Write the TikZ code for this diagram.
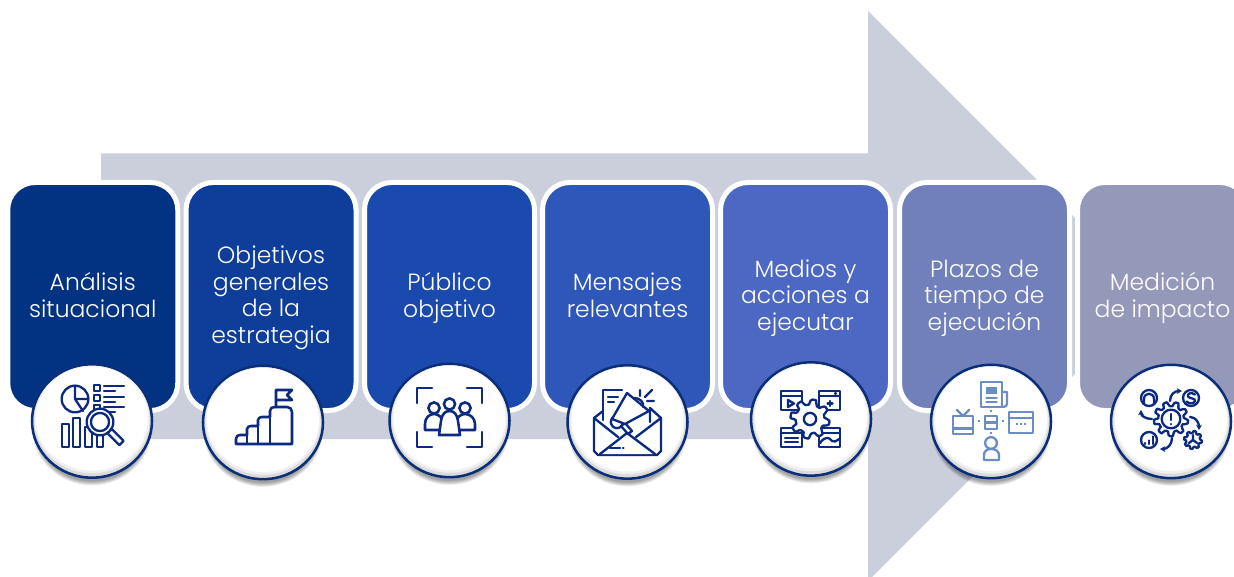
\documentclass[tikz,border=0pt]{standalone}
\usepackage{fontspec}
\setmainfont{Poppins}[UprightFont=* Light]
\usetikzlibrary{shapes.geometric,arrows.meta}
\definecolor{arrowgrey}{HTML}{CBCFDC}
\definecolor{boxa}{HTML}{023382}
\definecolor{boxb}{HTML}{0F3E9A}
\definecolor{boxc}{HTML}{1B4AAE}
\definecolor{boxd}{HTML}{2E57B9}
\definecolor{boxe}{HTML}{4C68C2}
\definecolor{boxf}{HTML}{717FBA}
\definecolor{boxg}{HTML}{9499BA}
\definecolor{ringblue}{HTML}{0A2F78}
\definecolor{iconblue}{HTML}{0B2A80}
\definecolor{iconlight}{HTML}{6B8CC4}
\newcommand{\upstr}{\rule{0pt}{15.55pt}}
\newcommand{\dnstr}{\rule[-4.35pt]{0pt}{4.35pt}}
\tikzset{
  x=0.75pt,y=-0.75pt,
  stepbox/.style={rectangle,rounded corners=20.5pt,draw=white,line width=3.75pt,
    minimum width=127.5pt,minimum height=171pt,inner sep=0pt,align=center,
    text=white,font=\fontsize{17.6}{19.9}\selectfont},
  disc/.style={ellipse,draw=ringblue,line width=1.9pt,fill=black!14,
    minimum width=90pt,minimum height=85pt,inner sep=0pt},
  ic/.style={draw=iconblue,line width=1.75pt,line join=round,line cap=round},
  icl/.style={draw=iconlight,line width=1.75pt,line join=round,line cap=round},
  tip/.style={-{Stealth[length=4pt,width=4.5pt]}}
}
\newcommand{\discat}[3]{%
  \foreach \k in {0,1,...,5}{%
    \fill[black,opacity=0.07] (#2,#3+7) circle[x radius=42pt+\k*0.6pt,y radius=40pt+\k*0.6pt];}
  \node[disc] (#1) at (#2,#3) {};
  \fill[black!6] (#2,#3-1.5) circle[x radius=43.2pt,y radius=40.3pt];
  \fill[white] (#2,#3-2.5) circle[x radius=42pt,y radius=39pt];
}
\newcommand{\gearshape}[6]{% style, cx, cy, r, amp, teeth
  \draw[#1,fill=white] plot[smooth cycle,tension=0.25,samples=#6*8+1,domain=0:360-45/#6,variable=\t]
   ({#2+(#4+#5*max(min(2.5*sin(#6*\t),1),-1))*cos(\t)},{#3+(#4+#5*max(min(2.5*sin(#6*\t),1),-1))*sin(\t)});
}
\begin{document}
\begin{tikzpicture}
\useasboundingbox (0,0) rectangle (1234,577);
\clip (0,0) rectangle (1234,577);
\fill[white] (0,0) rectangle (1234,577);
% big arrow
\fill[arrowgrey] (101,153.5) -- (868,153.5) -- (868,11) -- (1153,296) -- (868,581) -- (868,439) -- (101,439) -- cycle;
% boxes
\node[stepbox,fill=boxa] (b1) at (92.75,296.5) {\upstr Análisis\\situacional\dnstr};
\node[stepbox,fill=boxb] (b2) at (271,296.5) {\upstr Objetivos\\generales\\de la\\estrategia\dnstr};
\node[stepbox,fill=boxc] (b3) at (449.5,296.5) {\upstr Público\\objetivo\dnstr};
\node[stepbox,fill=boxd] (b4) at (627.5,296.5) {\upstr Mensajes\\relevantes\dnstr};
\node[stepbox,fill=boxe] (b5) at (805.5,296.5) {\upstr Medios y\\acciones a\\ejecutar\dnstr};
\node[stepbox,fill=boxf] (b6) at (984.5,296.5) {\upstr Plazos de\\tiempo de\\ejecución\dnstr};
\node[stepbox,fill=boxg] (b7) at (1162.5,296.5) {\upstr Medición\\de impacto\dnstr};
% discs
\discat{c1}{92}{421}
\discat{c2}{263}{422.5}
\discat{c3}{449.5}{420.5}
\discat{c4}{627.5}{422}
\discat{c5}{811}{419}
\discat{c6}{991}{421.5}
\discat{c7}{1171}{421.5}
% icon 1: analysis
\draw[ic] (75,399) circle[radius=10pt];
\draw[ic] (75,385.5) -- (75,399) -- (88.5,399) (75,399) -- (83,411);
\foreach \yy in {388,398,408}{\draw[ic] (94,\yy-3) rectangle (100,\yy+3);}
\draw[ic] (104,386) -- (124,386) (104,391) -- (115,391) (104,397) -- (124,397) (104,402) -- (115,402) (104,407) -- (124,407) (104,412) -- (115,412);
\draw[ic] (62,424) rectangle (69,447);
\draw[ic] (73,418) rectangle (80,447);
\draw[ic] (85,427) rectangle (92,447);
\draw[ic] (97,433) rectangle (103,447);
\draw[ic,fill=white,rotate around={-45:(115.5,437)}] (107,434) rectangle (124,440);
\draw[ic,fill=white] (100,422) circle[radius=10pt];
\draw[ic] (100,422) circle[radius=6.8pt];
% icon 2: stairs
\draw[ic,line width=1.9pt,fill=white] (236,444) -- (236,439) .. controls (236,436) and (238,435) .. (240,435) -- (247,435) -- (247,429) .. controls (247,427) and (249,426) .. (251,426) -- (258,426) -- (258,420) .. controls (258,418) and (260,417) .. (262,417) -- (270,417) -- (270,411) .. controls (270,408) and (272,407) .. (275,407) -- (287,407) .. controls (290,407) and (292,409) .. (292,412) -- (292,444) -- cycle;
\draw[ic,line width=1.9pt] (247,435) -- (247,444) (258,426) -- (258,444) (270,417) -- (270,444);
\draw[ic,line width=1.9pt] (276,407) -- (276,390) -- (292,390) -- (287,395) -- (292,400) -- (276,400);
% icon 3: audience
\draw[ic,line width=1.9pt] (417,403) -- (417,388) -- (432,388) (467,388) -- (482,388) -- (482,403)
  (417,432) -- (417,447) -- (432,447) (467,447) -- (482,447) -- (482,432);
\draw[ic,line width=1.9pt,fill=white] (425,430) -- (425,424) .. controls (425,418) and (429,414) .. (434,414) .. controls (439,414) and (443,418) .. (443,424) -- (443,430) -- cycle;
\draw[ic,line width=1.9pt,fill=white] (456,430) -- (456,424) .. controls (456,418) and (460,414) .. (465,414) .. controls (470,414) and (475,418) .. (475,424) -- (475,430) -- cycle;
\draw[ic,line width=1.9pt,fill=white] (434,408) circle[radius=4.2pt];
\draw[ic,line width=1.9pt,fill=white] (465,408) circle[radius=4.2pt];
\draw[ic,line width=1.9pt,fill=white] (439,435) -- (441,421) .. controls (442,414) and (445,411) .. (449.5,411) .. controls (454,411) and (457,414) .. (458,421) -- (460,435) -- cycle;
\draw[ic,line width=1.9pt,fill=white] (449.5,404) circle[radius=4.2pt];
% icon 4: envelope and megaphone
\draw[ic] (603,420) -- (603,390) -- (622,390);
\draw[ic] (608,397) -- (618,397) (608,402) -- (614,402);
\draw[ic] (594,418) -- (603,411) (661,418) -- (650,408) (650,408) -- (650,422);
\draw[ic] (594,418) -- (594,451) -- (598,455) -- (657,455) -- (661,451) -- (661,418);
\draw[ic] (594,418) -- (618,437) (661,418) -- (636,437);
\draw[ic,fill=white] (600,454) -- (627,433) -- (655,454);
\draw[ic] (610,448) -- (620,448) (623,448) -- (623.5,448);
\draw[ic,fill=white] (617,422) circle[radius=4.6pt];
\draw[ic,fill=white] (621,426) -- (628,434) -- (632,431) -- (625,423) -- cycle;
\draw[ic,fill=white] (612,419) -- (627,393) -- (649,411) -- (625,424) -- cycle;
\draw[ic] (634,398) .. controls (640,398) and (644,402) .. (643,407);
\draw[ic] (640,390) -- (640,396) (652,390) -- (645,397) (647,401) -- (654,401);
% icon 5: gear and windows
\foreach \xa/\ya in {781/391,819/391,781/428,819/428}{
  \draw[ic] (\xa,\ya) rectangle (\xa+21,\ya+19);
  \draw[ic] (\xa,\ya+5) -- (\xa+21,\ya+5);}
\draw[ic] (788,400) -- (788,407) -- (794,403.5) -- cycle;
\draw[ic] (835,393.5) -- (836,393.5) (830,401) -- (830,406) (827.5,403.5) -- (832.5,403.5);
\draw[ic] (785,438) -- (798,438) (785,442) -- (798,442);
\draw[ic] (820,443) .. controls (825,436) and (829,437) .. (832,441) .. controls (834,443) and (836,441) .. (839,439);
\gearshape{ic}{810}{419}{17}{2.6}{8}
\draw[ic] (810,419) circle[radius=4.6pt];
% icon 6: media
\draw[icl] (1002,392) -- (1007,392) -- (1007,404) .. controls (1007,406) and (1005,407) .. (1003,407);
\draw[icl] (981,382) rectangle (1002,407);
\fill[iconlight] (986,387) rectangle (997,394);
\draw[icl,line width=1pt] (986,398) -- (997,398) (986,402) -- (997,402);
\draw[icl] (953,416) rectangle (973,434);
\draw[icl] (953,428.5) -- (973,428.5);
\draw[icl] (957,410) -- (963,416) -- (969,410);
\draw[icl] (1009,412) rectangle (1033,433);
\draw[icl] (1009,418) -- (1033,418);
\foreach \xx in {1017,1021,1025}{\fill[iconlight] (\xx-1,423) rectangle (\xx+1,425);}
\draw[icl] (985,416) rectangle (997,429);
\draw[icl] (985,422.5) -- (997,422.5);
\foreach \xx/\yy in {991/411,991/433,979/421,1003/421}{\fill[iconlight] (\xx-1.2,\yy-1.2) rectangle (\xx+1.2,\yy+1.2);}
\draw[icl] (991,443) circle[radius=4.4pt];
\draw[icl] (984,460) -- (984,455) .. controls (984,451) and (987,449) .. (991,449) .. controls (995,449) and (999,451) .. (999,455) -- (999,460) -- cycle;
% icon 7: measurement
\gearshape{ic}{1171}{419}{15}{2.2}{9}
\draw[ic] (1171,419) circle[radius=7pt];
\draw[ic] (1171,414) -- (1171,420) (1171,424) -- (1171,424.3);
\draw[ic] (1149,398) circle[radius=6pt];
\draw[ic] (1144,404) -- (1144,399) .. controls (1144,392) and (1154,392) .. (1154,399) -- (1154,404);
\draw[ic] (1191,398) circle[radius=6pt];
\draw[ic] (1195,394.5) .. controls (1191,391.5) and (1186.5,394) .. (1188,396.5) .. controls (1190,399) and (1195.5,398) .. (1195,401) .. controls (1194,404) and (1189,404) .. (1186.5,401.5);
\draw[ic] (1149,440) circle[radius=6pt];
\draw[ic] (1145,444) -- (1145,443) (1149,444) -- (1149,440.5) (1153,444) -- (1153,436.5);
\gearshape{ic}{1193}{440}{8}{1}{8}
\draw[ic] (1193,440) -- (1193,435) (1193,440) -- (1197,443) (1193,440) -- (1189,443);
\coordinate (a1s) at (1170,401); \coordinate (a1e) at (1182,391);
\coordinate (a2s) at (1152,419); \coordinate (a2e) at (1141,410);
\coordinate (a3s) at (1190,417); \coordinate (a3e) at (1199,430);
\coordinate (a4s) at (1172,438); \coordinate (a4e) at (1160,449);
\draw[ic,tip] (a1s) .. controls (1170,394) and (1175,391) .. (a1e);
\draw[ic,tip] (a2s) .. controls (1146,419) and (1141,416) .. (a2e);
\draw[ic,tip] (a3s) .. controls (1196,417) and (1199,423) .. (a3e);
\draw[ic,tip] (a4s) .. controls (1172,445) and (1167,449) .. (a4e);
\end{tikzpicture}
\end{document}
